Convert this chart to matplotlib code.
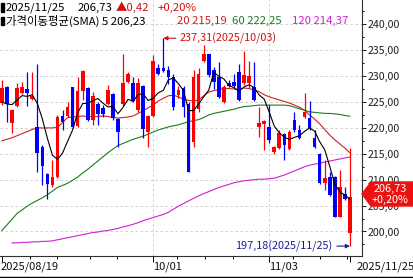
import numpy as np
import pandas as pd
import matplotlib
matplotlib.use('Agg')
import matplotlib.pyplot as plt
from matplotlib.patches import Polygon, Rectangle
from matplotlib.lines import Line2D
from matplotlib.ticker import FuncFormatter, MultipleLocator

plt.rcParams['font.family'] = ['Noto Sans CJK KR', 'DejaVu Sans']

# trading days (US market, Labor Day closed)
dates = pd.bdate_range('2025-08-19', '2025-11-25').drop(pd.Timestamp('2025-09-01'))

opens = [224.85, 227.81, 221.0, 224.21, 226.78, 227.42, 225.56, 220.1, 216.37, 211.1,
         208.92, 210.47, 222.28, 222.28, 227.81, 220.42, 227.1, 227.61, 221.51, 224.6,
         223.89, 224.6, 226.52, 221.64, 224.6, 228.9, 228.58, 223.44, 228.06, 219.26,
         222.28, 231.47, 231.47, 231.15, 229.86, 226.33, 227.61, 224.6, 217.34, 223.57,
         232.94, 234.23, 231.27, 229.86, 225.04, 228.58, 228.9, 230.83, 228.58, 228.58,
         227.93, 220.23, 220.8, 220.23, 215.41, 216.05, 218.82, 215.86, 221.51, 219.59,
         222.03, 221.83, 217.98, 214.96, 209.31, 210.59, 210.59, 202.89, 207.25, 199.68]
highs = [229.22, 228.06, 223.7, 228.71, 228.9, 230.83, 230.83, 232.43, 216.7, 211.24,
         213.81, 222.5, 223.44, 225.04, 227.93, 229.86, 231.27, 227.93, 226.97, 225.04,
         224.4, 228.26, 226.65, 221.83, 234.36, 230.83, 229.86, 229.54, 228.26, 222.5,
         234.04, 232.43, 237.31, 231.92, 230.5, 228.0, 228.0, 225.0, 231.27, 231.47,
         235.96, 234.36, 231.79, 232.75, 228.26, 229.22, 230.5, 232.43, 234.87, 232.94,
         232.75, 224.08, 221.6, 224.4, 216.5, 219.59, 218.94, 219.59, 223.12, 220.55,
         226.65, 225.24, 219.59, 215.09, 213.81, 211.56, 210.7, 211.88, 208.67, 216.05]
lows = [224.4, 221.19, 218.94, 223.95, 226.52, 224.21, 225.37, 211.56, 208.99, 206.23,
        208.67, 210.27, 219.59, 222.15, 219.91, 220.23, 225.37, 221.4, 220.55, 220.55,
        222.03, 224.4, 221.51, 216.37, 224.21, 228.58, 225.04, 223.12, 217.98, 216.25,
        222.15, 230.18, 230.83, 228.4, 223.5, 225.8, 222.15, 211.56, 216.37, 223.0,
        232.75, 229.86, 227.42, 225.69, 224.85, 227.81, 227.61, 225.24, 228.26, 227.61,
        225.24, 218.3, 215.7, 217.02, 214.96, 215.86, 213.81, 215.73, 219.26, 217.8,
        221.83, 219.59, 216.05, 209.18, 208.02, 206.87, 202.76, 202.76, 206.1, 197.18]
closes = [227.61, 224.6, 223.44, 227.61, 227.93, 226.78, 226.2, 215.09, 212.65, 209.18,
          210.59, 222.03, 221.19, 223.95, 220.23, 227.1, 231.02, 221.51, 226.14, 222.67,
          222.67, 227.29, 221.83, 219.26, 228.71, 230.5, 225.24, 228.58, 219.78, 222.28,
          232.94, 230.31, 231.02, 229.86, 224.08, 227.29, 223.95, 211.56, 229.86, 230.38,
          234.36, 230.18, 228.9, 226.01, 227.81, 228.06, 228.06, 225.37, 230.18, 229.99,
          225.37, 220.87, 221.4, 217.66, 216.37, 218.94, 216.7, 219.26, 219.59, 217.98,
          223.12, 219.91, 216.37, 209.31, 210.27, 207.06, 202.89, 208.67, 206.31, 206.73]

ma5 = [225.0, 224.6, 224.5, 225.4, 226.24, 226.07, 226.39, 224.72, 221.73, 217.98,
       214.74, 213.91, 215.13, 217.39, 219.6, 222.9, 224.7, 224.76, 225.2, 225.69,
       224.8, 224.06, 224.12, 222.74, 223.95, 225.52, 225.11, 226.46, 226.56, 225.28,
       225.76, 226.78, 227.27, 229.28, 229.64, 228.51, 227.24, 223.35, 223.35, 224.6,
       226.02, 227.27, 230.74, 229.97, 229.45, 228.19, 227.77, 227.06, 227.9, 228.33,
       227.79, 226.36, 225.56, 223.06, 220.33, 219.05, 218.21, 217.79, 218.17, 218.49,
       219.33, 219.97, 219.39, 217.34, 215.8, 212.58, 209.18, 207.64, 207.04, 206.23]
ma20 = [217.5, 217.8, 218.1, 218.5, 218.9, 219.3, 219.7, 220.0, 220.0, 220.0,
        220.0, 220.1, 221.0, 222.0, 222.1, 222.2, 222.3, 222.2, 222.2, 222.2,
        222.3, 222.2, 222.0, 221.9, 222.0, 222.1, 222.3, 222.8, 223.3, 223.9,
        224.4, 225.2, 225.7, 226.2, 226.3, 226.0, 225.5, 225.3, 225.2, 225.4,
        226.2, 226.9, 227.2, 227.4, 227.6, 227.6, 227.5, 227.4, 227.7, 227.6,
        227.3, 227.0, 226.4, 226.0, 225.7, 225.4, 225.1, 224.8, 224.4, 224.0,
        223.4, 222.5, 221.7, 220.8, 219.7, 218.6, 217.7, 216.9, 216.1, 215.19]
ma60 = [200.2, 201.3, 202.4, 203.5, 204.2, 204.9, 205.5, 206.0, 206.5, 207.1,
        207.8, 208.5, 208.9, 209.3, 209.9, 210.5, 211.3, 212.0, 212.8, 213.6,
        214.4, 215.2, 215.9, 216.6, 217.0, 217.4, 217.8, 218.1, 218.4, 218.8,
        219.2, 219.6, 219.9, 220.2, 220.4, 220.6, 220.9, 221.2, 221.4, 221.6,
        222.0, 222.5, 222.8, 223.0, 223.2, 223.4, 223.6, 223.9, 224.1, 224.2,
        224.3, 224.4, 224.4, 224.4, 224.4, 224.4, 224.4, 224.3, 224.0, 223.7,
        223.4, 223.1, 223.0, 222.9, 222.8, 222.8, 222.7, 222.6, 222.4, 222.25]
ma120 = [np.nan, np.nan, 197.8, 197.8, 197.9, 197.9, 198.0, 198.0, 198.1, 198.1,
         198.2, 198.4, 198.6, 198.8, 199.0, 199.2, 199.4, 199.6, 199.8, 199.9,
         200.1, 200.2, 200.4, 200.6, 200.9, 201.1, 201.4, 201.7, 202.1, 202.4,
         202.7, 203.0, 203.3, 203.7, 204.3, 204.9, 205.4, 205.9, 206.4, 206.9,
         207.3, 207.7, 208.1, 208.5, 208.8, 209.1, 209.4, 209.6, 209.8, 209.9,
         210.0, 210.1, 210.1, 210.2, 210.3, 210.6, 210.9, 211.3, 211.7, 212.1,
         212.5, 212.8, 213.0, 213.2, 213.4, 213.6, 213.8, 214.0, 214.2, 214.37]

label_dates = ['2025-08-19', '2025-10-01', '2025-11-03', '2025-11-25']
label_texts = ['2025/08/19', '10/01', '11/03', '2025/11/25']

last_close = 206.73
change = 0.42
change_pct = 0.20
hi_text = '237,31(2025/10/03)'
lo_text = '197,18(2025/11/25)'

RED = '#ff0000'
BLUE = '#0000ff'
TXT_RED = '#d01010'
NAVY = '#1c1c96'
MA_COLORS = ['#000000', '#d02020', '#1f7a1f', '#d020d0']

W, H = 413, 278
fig = plt.figure(figsize=(W / 100, H / 100), dpi=100)
ax = fig.add_axes([0, 22 / H, 362 / W, 1 - 22 / H])

x = np.arange(len(dates))
o = np.array(opens); c = np.array(closes)
up = c >= o
cols = np.where(up, RED, BLUE)

# wicks and bodies
ax.vlines(x, lows, highs, colors=cols, lw=0.9, zorder=3)
body = np.maximum(np.abs(c - o), 0.12)
ax.bar(x, body, bottom=np.minimum(o, c), width=0.72, color=cols, lw=0, zorder=4)

# moving averages
for ma, col in zip([ma5, ma20, ma60, ma120], MA_COLORS):
    ax.plot(x, ma, color=col, lw=0.8, zorder=5 if col == '#000000' else 2)

ax.set_xlim(-0.4, 71.4)
ax.set_ylim(195.27, 244.69)

# grid
ax.yaxis.set_major_locator(MultipleLocator(5))
ax.yaxis.set_minor_locator(MultipleLocator(2.5))
ax.grid(axis='y', which='major', color='#c8c8c8', ls=(0, (3, 3)), lw=0.6)
lab_idx = [dates.get_loc(pd.Timestamp(d)) for d in label_dates]
for i in lab_idx[1:3]:
    ax.axvline(i, color='#c8c8c8', ls=(0, (3, 3)), lw=0.6, zorder=0)

ax.yaxis.tick_right()
ax.yaxis.set_major_formatter(FuncFormatter(lambda v, p: f'{v:.2f}'.replace('.', ',')))
ax.tick_params(axis='y', which='major', length=3, width=0.7, pad=1, labelsize=7.6, colors='#202020')
ax.tick_params(axis='y', which='minor', length=1.5, width=0.7)

ax.set_xticks(lab_idx)
ax.set_xticklabels([])
ax.set_xticks([5.6, 10.9, 17.5, 22.8, 34.7, 40.3, 45.8, 57.7, 63.1, 68.5], minor=True)
ax.tick_params(axis='x', which='major', length=4, width=0.7, direction='out')
ax.tick_params(axis='x', which='minor', length=2.2, width=0.7, direction='out')

for s in ['left', 'top']:
    ax.spines[s].set_visible(False)
for s in ['right', 'bottom']:
    ax.spines[s].set_color('#303030')
    ax.spines[s].set_linewidth(0.8)

# date labels under the axis
lab_px = [1, 153, 269, 357]
for t, px in zip(label_texts, lab_px):
    fig.text(px / W, 1 - 267 / H, t, fontsize=8, ha='left', va='center', color='#101010')
fig.add_artist(Line2D([0, 1], [1 - 276.5 / H] * 2, color='black', lw=1))

# header lines
def ftext(px, py, s, col, size=8.2):
    fig.text(px / W, 1 - py / H, s, fontsize=size, ha='left', va='center', color=col)

for py in (7.5, 21):
    fig.add_artist(Rectangle((1 / W, 1 - (py + 4) / H), 2.5 / W, 8 / H, color='black',
                             transform=fig.transFigure))
ftext(6, 7.5, f'{dates[-1]:%Y/%m/%d}', 'black')
ftext(78, 7.5, f'{last_close:.2f}'.replace('.', ','), 'black')
ftext(116, 7.5, f'▲{change:.2f}'.replace('.', ','), TXT_RED)
ftext(158, 7.5, f'+{change_pct:.2f}%'.replace('.', ','), TXT_RED)
ftext(6, 21, f'가격이동평균(SMA) 5 {ma5[-1]:.2f}'.replace('.', ','), 'black')
ftext(177, 21, f'20 {ma20[-1]:.2f}'.replace('.', ','), MA_COLORS[1])
ftext(232, 21, f'60 {ma60[-1]:.2f}'.replace('.', ','), MA_COLORS[2])
ftext(292, 21, f'120 {ma120[-1]:.2f}'.replace('.', ','), MA_COLORS[3])

# high / low annotations
i_hi = int(np.argmax(highs)); i_lo = int(np.argmin(lows))
ax.annotate(hi_text, xy=(i_hi, highs[i_hi]), xytext=(35.3, highs[i_hi]),
            fontsize=7.8, color=TXT_RED, ha='left', va='center',
            arrowprops=dict(arrowstyle='-|>', color=TXT_RED, lw=0.8,
                            mutation_scale=6, shrinkA=1, shrinkB=0))
ax.annotate(lo_text, xy=(i_lo, lows[i_lo]), xytext=(65.6, lows[i_lo]),
            fontsize=7.8, color=NAVY, ha='right', va='center',
            arrowprops=dict(arrowstyle='-|>', color=NAVY, lw=0.8,
                            mutation_scale=6, shrinkA=1, shrinkB=0))

# last price box on the axis
pts = [(362, 194), (371, 182), (413, 182), (413, 206), (371, 206)]
fig.add_artist(Polygon([(px / W, 1 - py / H) for px, py in pts], closed=True,
                       color='#ee1111', transform=fig.transFigure, zorder=10))
fig.text(390 / W, 1 - 188.5 / H, f'{last_close:.2f}'.replace('.', ','), fontsize=7.8,
         color='white', ha='center', va='center', zorder=11)
fig.text(390 / W, 1 - 199.5 / H, f'+{change_pct:.2f}%'.replace('.', ','), fontsize=7.8,
         color='white', ha='center', va='center', zorder=11)

fig.savefig('out.png', dpi=100)
